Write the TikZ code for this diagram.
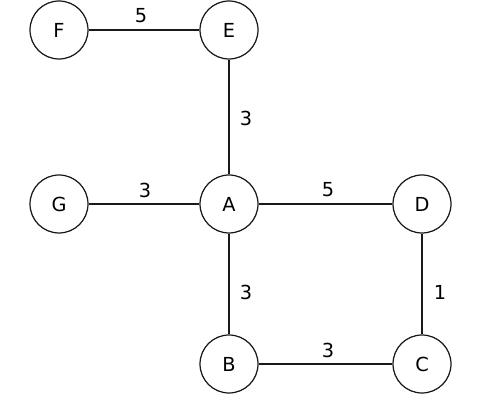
\documentclass[tikz,border=0pt]{standalone}
\usepackage{fontspec}
\setmainfont{DejaVu Sans}
\begin{document}
\begin{tikzpicture}[
    x=0.02cm, y=-0.02cm,
    vert/.style={draw=black!90, circle, line width=0.7pt, minimum size=1.16cm,
        inner sep=0pt, font=\fontsize{11}{13}\selectfont},
    link/.style={draw=black!90, line width=0.7pt},
    weight/.style={font=\fontsize{11}{13}\selectfont, inner sep=1pt}
]
\useasboundingbox (0,0) rectangle (500,394);

\node[vert] (F) at (59,30) {F};
\node[vert] (E) at (229,30) {E};

\node[vert] (G) at (59,204) {G};
\node[vert] (A) at (229,204) {A};
\node[vert] (D) at (422,204) {D};

\node[vert] (B) at (229,364) {B};
\node[vert] (C) at (422,364) {C};

\draw[link] (F) -- (E);
\draw[link] (E) -- (A);
\draw[link] (G) -- (A);
\draw[link] (A) -- (D);
\draw[link] (A) -- (B);
\draw[link] (D) -- (C);
\draw[link] (B) -- (C);

%------------------------------------------------
% weights
%------------------------------------------------
\node[weight] at (141,16) {5};
\node[weight] at (246,118) {3};
\node[weight] at (145,190) {3};
\node[weight] at (328,190) {5};
\node[weight] at (246,292) {3};
\node[weight] at (440,292) {1};
\node[weight] at (328,350) {3};

\end{tikzpicture}
\end{document}
